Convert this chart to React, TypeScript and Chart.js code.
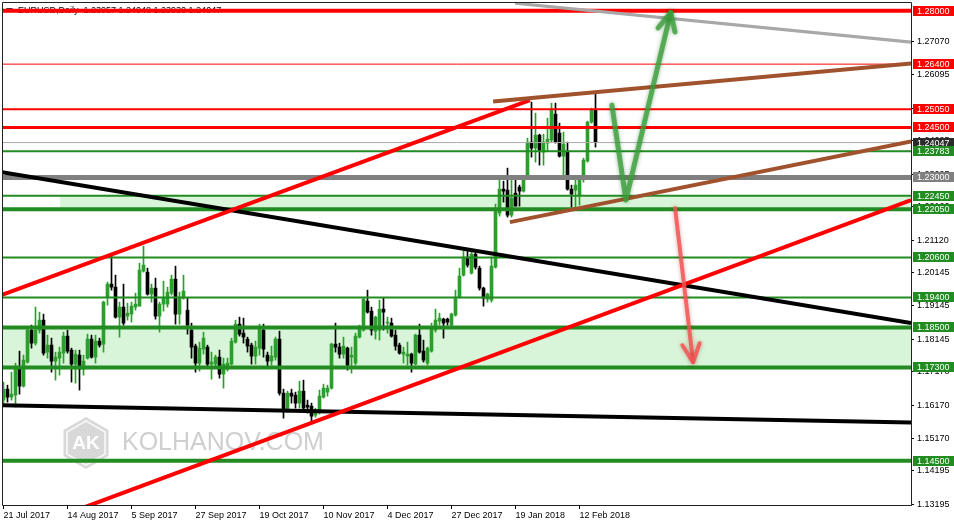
import React, { useEffect, useRef } from 'react';
import { Chart, registerables } from 'chart.js';

Chart.register(...registerables);

// ---- candle data (EURUSD daily) ----
const opens = [
  1.1632, 1.1665, 1.1641, 1.1647, 1.1728, 1.1674, 1.1746, 1.1842, 1.1803, 1.1842,
  1.1872, 1.1776, 1.1797, 1.1749, 1.1758, 1.1773, 1.1824, 1.1782, 1.1740, 1.1767,
  1.1725, 1.1758, 1.1815, 1.1761, 1.1809, 1.1800, 1.1941, 1.1980, 1.1971, 1.1881,
  1.1911, 1.1884, 1.1890, 1.1911, 1.1914, 1.2019, 1.2016, 1.1950, 1.1968, 1.1884,
  1.1920, 1.1920, 1.1953, 1.1995, 1.1890, 1.1938, 1.1902, 1.1842, 1.1794, 1.1743,
  1.1785, 1.1791, 1.1740, 1.1740, 1.1761, 1.1710, 1.1725, 1.1740, 1.1806, 1.1860,
  1.1833, 1.1815, 1.1797, 1.1764, 1.1788, 1.1842, 1.1767, 1.1749, 1.1761, 1.1815,
  1.1653, 1.1605, 1.1653, 1.1647, 1.1623, 1.1659, 1.1617, 1.1614, 1.1587, 1.1596,
  1.1641, 1.1656, 1.1668, 1.1800, 1.1791, 1.1770, 1.1788, 1.1761, 1.1743, 1.1821,
  1.1842, 1.1929, 1.1899, 1.1839, 1.1842, 1.1905, 1.1863, 1.1863, 1.1827, 1.1797,
  1.1770, 1.1764, 1.1770, 1.1740, 1.1827, 1.1779, 1.1743, 1.1779, 1.1842, 1.1869,
  1.1875, 1.1875, 1.1857, 1.1887, 1.1941, 1.2007, 1.2061, 1.2013, 1.2070, 1.2028,
  1.1968, 1.1935, 1.1932, 1.2031, 1.2193, 1.2265, 1.2262, 1.2187, 1.2253, 1.2271,
  1.2259, 1.2307, 1.2406, 1.2388, 1.2427, 1.2376, 1.2403, 1.2412, 1.2490, 1.2433,
  1.2364, 1.2379, 1.2265, 1.2262, 1.2247, 1.2307, 1.2349, 1.2466, 1.2502,
];
const highs = [
  1.1686, 1.1677, 1.1716, 1.1743, 1.1779, 1.1767, 1.1845, 1.1857, 1.1911, 1.1896,
  1.1890, 1.1827, 1.1818, 1.1776, 1.1791, 1.1836, 1.1842, 1.1788, 1.1782, 1.1782,
  1.1767, 1.1830, 1.1827, 1.1827, 1.1818, 1.1929, 1.1986, 1.2067, 1.2007, 1.1926,
  1.1980, 1.1923, 1.1926, 1.1953, 1.2043, 1.2094, 1.2028, 1.1980, 1.1998, 1.1926,
  1.1989, 1.1971, 1.2007, 1.2034, 1.1956, 1.2007, 1.1938, 1.1863, 1.1800, 1.1806,
  1.1836, 1.1797, 1.1776, 1.1767, 1.1782, 1.1758, 1.1758, 1.1818, 1.1872, 1.1881,
  1.1878, 1.1821, 1.1803, 1.1809, 1.1860, 1.1860, 1.1776, 1.1794, 1.1821, 1.1839,
  1.1665, 1.1659, 1.1665, 1.1656, 1.1689, 1.1692, 1.1632, 1.1623, 1.1608, 1.1662,
  1.1680, 1.1677, 1.1803, 1.1863, 1.1803, 1.1821, 1.1791, 1.1791, 1.1833, 1.1857,
  1.1938, 1.1962, 1.1911, 1.1884, 1.1932, 1.1938, 1.1881, 1.1878, 1.1842, 1.1803,
  1.1791, 1.1806, 1.1773, 1.1830, 1.1860, 1.1812, 1.1791, 1.1863, 1.1905, 1.1893,
  1.1878, 1.1878, 1.1893, 1.1962, 1.2028, 1.2079, 1.2082, 1.2076, 1.2079, 1.2034,
  1.1971, 1.1953, 1.2061, 1.2220, 1.2292, 1.2289, 1.2328, 1.2292, 1.2292, 1.2277,
  1.2301, 1.2418, 1.2526, 1.2493, 1.2430, 1.2430, 1.2478, 1.2523, 1.2523, 1.2463,
  1.2436, 1.2406, 1.2277, 1.2292, 1.2295, 1.2358, 1.2469, 1.2508, 1.2556,
];
const lows = [
  1.1617, 1.1626, 1.1632, 1.1611, 1.1650, 1.1671, 1.1743, 1.1788, 1.1797, 1.1833,
  1.1767, 1.1758, 1.1716, 1.1692, 1.1707, 1.1743, 1.1773, 1.1686, 1.1683, 1.1662,
  1.1707, 1.1755, 1.1758, 1.1743, 1.1791, 1.1776, 1.1917, 1.1962, 1.1878, 1.1821,
  1.1857, 1.1872, 1.1866, 1.1902, 1.1914, 1.2016, 1.1947, 1.1926, 1.1875, 1.1836,
  1.1899, 1.1911, 1.1947, 1.1860, 1.1860, 1.1935, 1.1830, 1.1758, 1.1716, 1.1719,
  1.1770, 1.1728, 1.1695, 1.1728, 1.1698, 1.1668, 1.1719, 1.1737, 1.1803, 1.1824,
  1.1803, 1.1776, 1.1740, 1.1740, 1.1767, 1.1761, 1.1728, 1.1737, 1.1752, 1.1647,
  1.1578, 1.1596, 1.1623, 1.1608, 1.1608, 1.1596, 1.1593, 1.1560, 1.1581, 1.1590,
  1.1638, 1.1644, 1.1665, 1.1776, 1.1758, 1.1758, 1.1722, 1.1713, 1.1737, 1.1818,
  1.1839, 1.1893, 1.1827, 1.1815, 1.1812, 1.1842, 1.1833, 1.1821, 1.1782, 1.1770,
  1.1743, 1.1737, 1.1716, 1.1737, 1.1773, 1.1746, 1.1737, 1.1776, 1.1836, 1.1857,
  1.1818, 1.1857, 1.1851, 1.1884, 1.1938, 1.2004, 1.2031, 1.2010, 1.2025, 1.1962,
  1.1914, 1.1926, 1.1926, 1.2028, 1.2184, 1.2226, 1.2181, 1.2181, 1.2214, 1.2214,
  1.2256, 1.2307, 1.2361, 1.2346, 1.2337, 1.2337, 1.2379, 1.2406, 1.2403, 1.2361,
  1.2298, 1.2262, 1.2211, 1.2211, 1.2217, 1.2286, 1.2346, 1.2463, 1.2391,
];
const closes = [
  1.1665, 1.1641, 1.1650, 1.1728, 1.1674, 1.1752, 1.1842, 1.1803, 1.1842, 1.1872,
  1.1773, 1.1797, 1.1749, 1.1761, 1.1776, 1.1824, 1.1779, 1.1740, 1.1770, 1.1725,
  1.1749, 1.1815, 1.1761, 1.1809, 1.1797, 1.1926, 1.1980, 1.1971, 1.1881, 1.1911,
  1.1863, 1.1893, 1.1914, 1.1920, 1.2022, 1.2037, 1.1950, 1.1968, 1.1884, 1.1920,
  1.1938, 1.1956, 1.1995, 1.1890, 1.1941, 1.1959, 1.1857, 1.1791, 1.1743, 1.1788,
  1.1818, 1.1740, 1.1746, 1.1761, 1.1710, 1.1740, 1.1743, 1.1809, 1.1860, 1.1830,
  1.1821, 1.1794, 1.1764, 1.1791, 1.1845, 1.1785, 1.1749, 1.1764, 1.1815, 1.1653,
  1.1605, 1.1653, 1.1644, 1.1623, 1.1659, 1.1608, 1.1611, 1.1584, 1.1599, 1.1644,
  1.1668, 1.1668, 1.1800, 1.1791, 1.1770, 1.1794, 1.1737, 1.1767, 1.1824, 1.1848,
  1.1935, 1.1896, 1.1842, 1.1881, 1.1905, 1.1896, 1.1866, 1.1824, 1.1794, 1.1773,
  1.1776, 1.1770, 1.1743, 1.1827, 1.1776, 1.1752, 1.1788, 1.1848, 1.1872, 1.1878,
  1.1863, 1.1866, 1.1890, 1.1941, 1.2004, 1.2061, 1.2037, 1.2070, 1.2031, 1.1968,
  1.1938, 1.1950, 1.2034, 1.2202, 1.2265, 1.2259, 1.2187, 1.2238, 1.2214, 1.2259,
  1.2292, 1.2406, 1.2388, 1.2427, 1.2382, 1.2406, 1.2415, 1.2502, 1.2406, 1.2364,
  1.2400, 1.2265, 1.2250, 1.2277, 1.2292, 1.2352, 1.2466, 1.2502, 1.24047,
];

// ---- axes ----
const dateLabels = ['21 Jul 2017', '14 Aug 2017', '5 Sep 2017', '27 Sep 2017', '19 Oct 2017', '10 Nov 2017', '4 Dec 2017', '27 Dec 2017', '19 Jan 2018', '12 Feb 2018'];
const dateTickBars = [0, 16, 32, 48, 64, 80, 96, 112, 128, 144];
const priceTicks = [1.13195, 1.14195, 1.1517, 1.1617, 1.1717, 1.18145, 1.19145, 1.20145, 1.2112, 1.2212, 1.23095, 1.24095, 1.2507, 1.26095, 1.2707];

// ---- horizontal levels ----
const redLevels = [1.28, 1.264, 1.2505, 1.245];
const greenLevels = [1.23783, 1.2245, 1.2205, 1.206, 1.194, 1.185, 1.173, 1.145];
const pivotLevel = 1.23;
const lastPrice = 1.24047;
const upperZone = [1.2245, 1.2205];
const upperZoneStartBar = 14.1;
const lowerZone = [1.185, 1.173];

// ---- trend lines (bar index, price) ----
const grayTrendBars = [127.9, 226.9];
const grayTrendPrices = [1.2823, 1.2706];
const brownUpperBars = [122.4, 226.9];
const brownUpperPrices = [1.2528, 1.2642];
const brownLowerBars = [126.6, 226.9];
const brownLowerPrices = [1.2166, 1.2408];
const redUpperBars = [-0.375, 131.6];
const redUpperPrices = [1.1948, 1.2532];
const redLowerBars = [14.9, 226.9];
const redLowerPrices = [1.1287, 1.2232];
const blackUpperBars = [-0.375, 226.875];
const blackUpperPrices = [1.2316, 1.1863];
const blackLowerBars = [-0.375, 226.875];
const blackLowerPrices = [1.1617, 1.1565];

// ---- arrows ----
const greenArrowBars = [152.1, 155.6, 166.8];
const greenArrowPrices = [1.2517, 1.2232, 1.2795];
const redArrowBars = [167.9, 172.4];
const redArrowPrices = [1.2208, 1.1746];

const X_MIN = -0.375;
const X_MAX = 226.875;
const Y_MIN = 1.13144;
const Y_MAX = 1.28264;

const FONT = '"Liberation Sans", Arial, sans-serif';
const GREEN = '#228b22';
const CANDLE_GREEN = '#2aa02a';

const redWidths = [4, 1, 2, 3];
const greenWidths = [2, 2, 4, 2, 2, 4, 4, 4];

function seg(bars: number[], prices: number[]) {
  return bars.map((b, i) => ({ x: b, y: prices[i] }));
}

function lineDs(data: any[], color: string, width: number, order: number, extra: any = {}) {
  return {
    type: 'line',
    data,
    borderColor: color,
    borderWidth: width,
    pointRadius: 0,
    tension: 0,
    fill: false,
    order,
    ...extra,
  };
}

const decorPlugin = {
  id: 'decor',
  beforeDatasetsDraw(chart: any) {
    const ctx = chart.ctx;
    ctx.save();
    // header
    ctx.fillStyle = '#333';
    ctx.beginPath();
    ctx.moveTo(6, 8);
    ctx.lineTo(13, 8);
    ctx.lineTo(9.5, 12);
    ctx.closePath();
    ctx.fill();
    ctx.fillStyle = '#000';
    ctx.font = '9px ' + FONT;
    ctx.textBaseline = 'middle';
    ctx.fillText('EURUSD,Daily  1.23957 1.24048 1.23930 1.24047', 18, 10.5);
    // watermark
    const cx = 86, cy = 443, r = 26;
    ctx.beginPath();
    for (let k = 0; k < 6; k++) {
      const a = Math.PI / 2 + (k * Math.PI) / 3;
      const px = cx + r * Math.cos(a), py = cy - r * Math.sin(a);
      if (k === 0) ctx.moveTo(px, py); else ctx.lineTo(px, py);
    }
    ctx.closePath();
    ctx.fillStyle = '#d8d8d8';
    ctx.fill();
    ctx.beginPath();
    for (let k = 0; k < 6; k++) {
      const a = Math.PI / 2 + (k * Math.PI) / 3;
      const px = cx + (r - 4) * Math.cos(a), py = cy - (r - 4) * Math.sin(a);
      if (k === 0) ctx.moveTo(px, py); else ctx.lineTo(px, py);
    }
    ctx.closePath();
    ctx.strokeStyle = '#f4f4f4';
    ctx.lineWidth = 2;
    ctx.stroke();
    ctx.fillStyle = '#ffffff';
    ctx.font = 'bold 19px ' + FONT;
    ctx.textAlign = 'center';
    ctx.fillText('AK', cx, cy + 1);
    ctx.textAlign = 'left';
    ctx.fillStyle = '#cfcfcf';
    ctx.font = '25px ' + FONT;
    ctx.fillText('KOLHANOV.COM', 122, 443);
    ctx.restore();
  },
  afterDatasetsDraw(chart: any) {
    const ctx = chart.ctx;
    const xs = chart.scales.x, ys = chart.scales.y;
    const drawArrow = (bars: number[], prices: number[], color: string, shadow: string, width: number) => {
      const pts = bars.map((b, i) => [xs.getPixelForValue(b), ys.getPixelForValue(prices[i])]);
      ctx.save();
      ctx.strokeStyle = color;
      ctx.lineWidth = width;
      ctx.lineCap = 'round';
      ctx.lineJoin = 'round';
      ctx.shadowColor = shadow;
      ctx.shadowBlur = 4;
      ctx.beginPath();
      pts.forEach((p, i) => (i === 0 ? ctx.moveTo(p[0], p[1]) : ctx.lineTo(p[0], p[1])));
      ctx.stroke();
      const [tx, ty] = pts[pts.length - 1];
      const [px, py] = pts[pts.length - 2];
      const ang = Math.atan2(ty - py, tx - px);
      const L = 20;
      ctx.beginPath();
      ctx.moveTo(tx - L * Math.cos(ang - 0.45), ty - L * Math.sin(ang - 0.45));
      ctx.lineTo(tx, ty);
      ctx.lineTo(tx - L * Math.cos(ang + 0.45), ty - L * Math.sin(ang + 0.45));
      ctx.stroke();
      ctx.restore();
    };
    drawArrow(greenArrowBars, greenArrowPrices, 'rgba(60,160,60,0.8)', 'rgba(0,90,0,0.5)', 5);
    drawArrow(redArrowBars, redArrowPrices, 'rgba(245,85,85,0.85)', 'rgba(150,0,0,0.4)', 4);
  },
  afterDraw(chart: any) {
    const ctx = chart.ctx;
    const ys = chart.scales.y;
    const a = chart.chartArea;
    ctx.save();
    // frame
    ctx.strokeStyle = '#222';
    ctx.lineWidth = 1;
    ctx.beginPath();
    ctx.moveTo(2.5, a.bottom - 0.5);
    ctx.lineTo(2.5, 2.5);
    ctx.lineTo(a.right + 0.5, 2.5);
    ctx.lineTo(a.right + 0.5, a.bottom - 0.5);
    ctx.lineTo(2.5, a.bottom - 0.5);
    ctx.stroke();
    // price boxes
    const items: [number, string][] = [
      ...redLevels.map((v) => [v, '#ff0000'] as [number, string]),
      [lastPrice, '#2b2b2b'],
      [pivotLevel, '#808080'],
      ...greenLevels.map((v) => [v, GREEN] as [number, string]),
    ];
    ctx.font = '9px ' + FONT;
    ctx.textBaseline = 'middle';
    for (const [v, c] of items) {
      const py = ys.getPixelForValue(v);
      ctx.fillStyle = c;
      ctx.fillRect(913, Math.round(py) - 5, 41, 10);
      ctx.fillStyle = '#ffffff';
      ctx.fillText(v.toFixed(5), 917, Math.round(py) + 0.5);
    }
    ctx.restore();
  },
};

export default function App() {
  const ref = useRef<HTMLCanvasElement>(null);
  useEffect(() => {
    document.body.style.margin = '0';
    const canvas = ref.current!;
    const candleColors = closes.map((c, i) => (c >= opens[i] ? CANDLE_GREEN : '#000000'));
    const datasets: any[] = [];
    // zones
    datasets.push(lineDs(seg([X_MIN, X_MAX], [lowerZone[0], lowerZone[0]]), 'rgba(0,0,0,0)', 0, 300, { fill: { value: lowerZone[1] }, backgroundColor: '#d9f5d9' }));
    datasets.push(lineDs(seg([upperZoneStartBar, X_MAX], [upperZone[0], upperZone[0]]), 'rgba(0,0,0,0)', 0, 300, { fill: { value: upperZone[1] }, backgroundColor: '#d9f5d9' }));
    // candles
    datasets.push({
      type: 'bar',
      data: opens.map((_, i) => ({ x: i, y: [lows[i], highs[i]] })),
      backgroundColor: candleColors,
      barThickness: 1,
      grouped: false,
      order: 200,
      borderWidth: 0,
    });
    datasets.push({
      type: 'bar',
      data: opens.map((o, i) => ({ x: i, y: [o, closes[i]] })),
      backgroundColor: candleColors,
      barThickness: 3,
      minBarLength: 1,
      grouped: false,
      order: 199,
      borderWidth: 0,
    });
    // levels
    datasets.push(lineDs(seg([X_MIN, X_MAX], [lastPrice, lastPrice]), '#a9a9a9', 1, 120));
    greenLevels.forEach((v, i) => datasets.push(lineDs(seg([X_MIN, X_MAX], [v, v]), GREEN, greenWidths[i], 110)));
    datasets.push(lineDs(seg([X_MIN, X_MAX], [pivotLevel, pivotLevel]), '#808080', 5, 105));
    redLevels.forEach((v, i) => datasets.push(lineDs(seg([X_MIN, X_MAX], [v, v]), '#ff0000', redWidths[i], 100)));
    // trend lines
    datasets.push(lineDs(seg(grayTrendBars, grayTrendPrices), '#a8a8a8', 3, 50));
    datasets.push(lineDs(seg(blackUpperBars, blackUpperPrices), '#000000', 4, 45));
    datasets.push(lineDs(seg(blackLowerBars, blackLowerPrices), '#000000', 4, 45));
    datasets.push(lineDs(seg(redUpperBars, redUpperPrices), '#ff0000', 4, 40));
    datasets.push(lineDs(seg(redLowerBars, redLowerPrices), '#ff0000', 4, 40));
    datasets.push(lineDs(seg(brownUpperBars, brownUpperPrices), '#a0522d', 4, 35));
    datasets.push(lineDs(seg(brownLowerBars, brownLowerPrices), '#a0522d', 4, 35));

    const chart = new Chart(canvas, {
      type: 'bar',
      data: { datasets },
      options: {
        animation: false,
        responsive: false,
        devicePixelRatio: 1,
        layout: { padding: { left: 2, top: 2, right: 0, bottom: 0 } },
        plugins: { legend: { display: false }, tooltip: { enabled: false } },
        scales: {
          x: {
            type: 'linear',
            min: X_MIN,
            max: X_MAX,
            offset: false,
            afterBuildTicks: (s: any) => {
              s.ticks = dateTickBars.map((v) => ({ value: v }));
            },
            afterFit: (s: any) => {
              s.height = 21;
              s.paddingLeft = 0;
              s.paddingRight = 0;
            },
            grid: { display: true, drawOnChartArea: false, drawTicks: true, tickLength: 3, color: '#000', offset: false },
            border: { display: false },
            ticks: {
              autoSkip: false,
              maxRotation: 0,
              minRotation: 0,
              align: 'start',
              padding: 1,
              color: '#000',
              font: { family: FONT, size: 9 },
              callback: (_v: any, idx: number) => dateLabels[idx],
            },
          },
          y: {
            type: 'linear',
            position: 'right',
            min: Y_MIN,
            max: Y_MAX,
            afterBuildTicks: (s: any) => {
              s.ticks = priceTicks.map((v) => ({ value: v }));
            },
            afterFit: (s: any) => {
              s.width = 43;
              s.paddingTop = 0;
              s.paddingBottom = 0;
            },
            grid: { display: true, drawOnChartArea: false, drawTicks: true, tickLength: 3, color: '#000' },
            border: { display: false },
            ticks: {
              padding: 3,
              color: '#000',
              font: { family: FONT, size: 9 },
              callback: (v: any) => Number(v).toFixed(5),
            },
          },
        },
      } as any,
      plugins: [decorPlugin],
    } as any);
    return () => chart.destroy();
  }, []);
  return (
    <div style={{ width: 954, height: 527, position: 'relative' }}>
      <canvas ref={ref} width={954} height={527} style={{ display: 'block' }} />
    </div>
  );
}
